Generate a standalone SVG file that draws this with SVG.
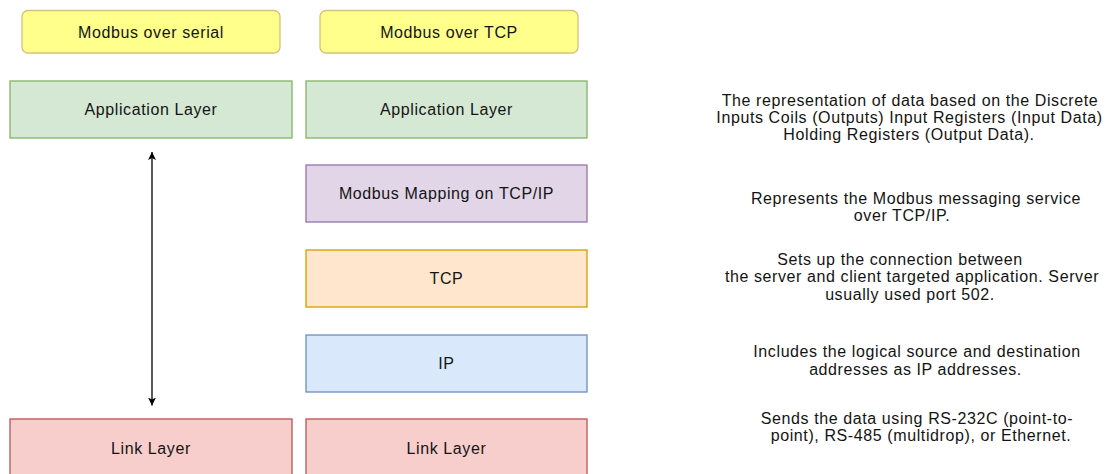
<svg xmlns="http://www.w3.org/2000/svg" width="1107" height="474" viewBox="0 0 1107 474">
<defs>
<style>
.lbl{font-family:"Liberation Sans",Arial,sans-serif;font-size:16px;letter-spacing:0.6px;fill:#141414;text-anchor:middle}
.box{stroke-width:1.3}
.yel{fill:#ffff8c;stroke:#d6c27a}
.grn{fill:#d5e8d4;stroke:#82b366}
.pur{fill:#e1d5e7;stroke:#9673a6}
.org{fill:#ffe6cc;stroke:#d79b00}
.blu{fill:#dae8fc;stroke:#6c8ebf}
.red{fill:#f8cecc;stroke:#b85450}
.edge{stroke:#000;stroke-width:1.3;fill:none}
</style>
<marker id="ah" viewBox="0 0 10 10" refX="10" refY="5" markerWidth="8" markerHeight="8" markerUnits="userSpaceOnUse" orient="auto-start-reverse">
<path d="M0,0 L10,5 L0,10 L2.5,5 Z" fill="#000"/>
</marker>
</defs>
<rect width="1107" height="474" fill="#fff"/>
<g id="serial-title"><rect class="box yel" x="22" y="10.5" width="258" height="42.5" rx="6"/><text class="lbl" x="151" y="37.5">Modbus over serial</text></g>
<g id="tcp-title"><rect class="box yel" x="320" y="10.5" width="258" height="42.5" rx="6"/><text class="lbl" x="449" y="37.5">Modbus over TCP</text></g>
<g id="app-serial"><rect class="box grn" x="10" y="81" width="282" height="57"/><text class="lbl" x="151" y="115">Application Layer</text></g>
<g id="app-tcp"><rect class="box grn" x="306" y="81" width="281" height="57"/><text class="lbl" x="446.5" y="115">Application Layer</text></g>
<g id="mapping"><rect class="box pur" x="306" y="165" width="281" height="57"/><text class="lbl" x="446.5" y="199">Modbus Mapping on TCP/IP</text></g>
<g id="tcp"><rect class="box org" x="306" y="250" width="281" height="57"/><text class="lbl" x="446.5" y="284">TCP</text></g>
<g id="ip"><rect class="box blu" x="306" y="335" width="281" height="57"/><text class="lbl" x="446.5" y="369">IP</text></g>
<g id="link-serial"><rect class="box red" x="10" y="419" width="282" height="60"/><text class="lbl" x="151" y="453.5">Link Layer</text></g>
<g id="link-tcp"><rect class="box red" x="306" y="419" width="281" height="60"/><text class="lbl" x="446.5" y="453.5">Link Layer</text></g>
<g id="connectors"><line class="edge" x1="152" y1="152" x2="152" y2="405.5" marker-start="url(#ah)" marker-end="url(#ah)"/></g>
<g id="desc-app"><text class="lbl" x="910" y="106">The representation of data based on the Discrete</text><text class="lbl" x="909.5" y="123">Inputs Coils (Outputs) Input Registers (Input Data)</text><text class="lbl" x="909" y="140">Holding Registers (Output Data).</text></g>
<g id="desc-mapping"><text class="lbl" x="916" y="204">Represents the Modbus messaging service</text><text class="lbl" x="902" y="221">over TCP/IP.</text></g>
<g id="desc-tcp"><text class="lbl" x="900" y="264.5">Sets up the connection between</text><text class="lbl" x="912" y="282">the server and client targeted application. Server</text><text class="lbl" x="910" y="299.5">usually used port 502.</text></g>
<g id="desc-ip"><text class="lbl" x="917" y="357">Includes the logical source and destination</text><text class="lbl" x="915.5" y="374.5">addresses as IP addresses.</text></g>
<g id="desc-link"><text class="lbl" x="917" y="423.5">Sends the data using RS-232C (point-to-</text><text class="lbl" x="921" y="441">point), RS-485 (multidrop), or Ethernet.</text></g>
</svg>
